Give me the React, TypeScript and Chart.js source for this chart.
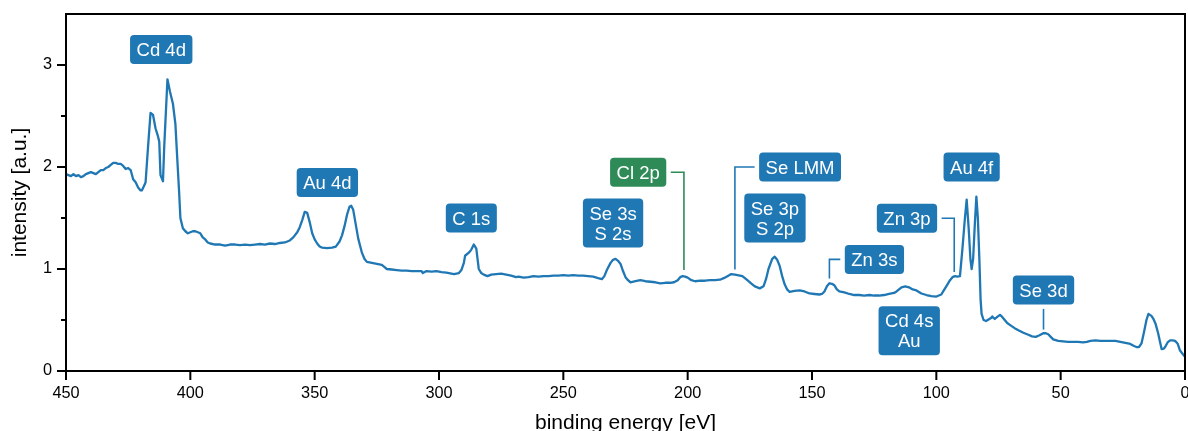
import React, { useEffect, useRef } from 'react';
import { Chart, registerables } from 'chart.js';

Chart.register(...registerables);

// binding energy [eV] (descending) and intensity [a.u.]
const energy = [
  450, 449, 448, 447, 446, 445, 444, 443, 442, 441, 440, 439, 438, 437, 436, 435, 434, 433, 432, 431,
  430, 429, 428, 427, 426, 425, 424, 423, 422, 421, 420, 419.5, 418.5, 418, 417, 416, 415, 414, 413, 412.5,
  412, 411, 410.5, 409.2, 408.2, 407, 406, 405.3, 404.5, 404, 403, 402, 401, 400, 399, 398, 397, 396, 395, 394,
  393, 392, 390, 388, 386, 384, 382, 380, 378, 376, 374, 372, 370, 368, 366, 364, 362, 360, 358.6, 357,
  356, 355, 354, 353, 352, 351, 350, 349, 348, 347, 345, 343, 341.5, 340, 339, 338, 337, 336, 335.3, 334.5,
  333.5, 332.5, 331, 330, 329, 327, 325, 323, 322, 321, 319, 317, 315, 313, 311, 309, 307, 306.5, 305, 303,
  301, 299, 297, 295, 294, 292, 291, 290, 289.5, 288, 287, 286, 285, 284.5, 284, 283, 282, 280.5, 279, 277,
  275, 273, 271, 269, 268, 266, 264, 262, 260, 258, 256, 254, 252, 250, 248, 246, 244, 242, 240, 238,
  236, 234.5, 233.5, 232.5, 231, 230, 229, 228, 227, 226, 225, 224, 223, 221, 219, 217, 215, 213, 211, 209,
  207, 205.5, 204, 203, 202, 201, 200, 198.5, 197, 195, 193, 191, 189, 187, 185.5, 184, 182.5, 181, 179, 178,
  176, 174.5, 173, 171, 169.5, 168.5, 167.5, 166, 165, 164, 163, 162, 161, 160, 159, 157, 155, 153, 151, 149,
  147, 146, 145, 144, 143, 142, 141, 140, 139, 137, 135, 133, 131, 129, 127, 125, 123, 121, 119, 117,
  116, 115, 114, 112.5, 111, 109.5, 108, 106, 104, 102, 100, 98, 97, 95.5, 94.5, 93.5, 92.5, 91.5, 90.5, 89.5,
  88.5, 87.8, 87, 86.3, 85.8, 85.2, 84.5, 83.9, 83.3, 82.7, 82.2, 81.8, 81, 80, 79, 78, 77.5, 77, 76.5, 75.5,
  74.4, 73.5, 72.5, 71.5, 70, 68.5, 67, 65, 63, 61.5, 60, 58.5, 57, 56, 55, 54, 53, 51, 49, 47,
  45, 43, 41, 39.5, 38, 36, 34, 32, 30, 28, 26, 24, 22, 20.5, 19.5, 18.5, 17.5, 16.5, 15.5, 14.7,
  13.5, 12.7, 11.8, 10.8, 10, 9.4, 8.5, 8, 7, 6, 5, 4, 3, 2, 1, 0,
];
const intensity = [
  1.93, 1.92, 1.91, 1.93, 1.91, 1.92, 1.90, 1.91, 1.93, 1.94, 1.95, 1.94, 1.93, 1.95, 1.97, 1.97, 1.99, 2.00, 2.02, 2.04,
  2.04, 2.03, 2.03, 2.01, 1.98, 1.99, 1.97, 1.88, 1.85, 1.80, 1.77, 1.77, 1.82, 1.85, 2.20, 2.53, 2.51, 2.38, 2.30, 2.25,
  1.92, 1.86, 2.20, 2.86, 2.74, 2.62, 2.42, 2.10, 1.75, 1.50, 1.40, 1.37, 1.35, 1.36, 1.37, 1.37, 1.36, 1.35, 1.31, 1.29,
  1.26, 1.25, 1.24, 1.24, 1.23, 1.24, 1.24, 1.235, 1.24, 1.235, 1.24, 1.245, 1.24, 1.25, 1.245, 1.255, 1.26, 1.28, 1.31, 1.36,
  1.41, 1.48, 1.56, 1.55, 1.46, 1.35, 1.29, 1.25, 1.22, 1.21, 1.205, 1.21, 1.22, 1.27, 1.33, 1.42, 1.53, 1.61, 1.62, 1.58,
  1.44, 1.30, 1.16, 1.10, 1.07, 1.06, 1.05, 1.04, 1.02, 1.00, 0.995, 0.99, 0.985, 0.985, 0.98, 0.98, 0.98, 0.96, 0.98, 0.975,
  0.98, 0.97, 0.965, 0.955, 0.95, 0.96, 0.99, 1.06, 1.13, 1.16, 1.19, 1.24, 1.20, 1.10, 1.00, 0.96, 0.945, 0.93, 0.945, 0.95,
  0.955, 0.945, 0.935, 0.92, 0.925, 0.915, 0.92, 0.93, 0.925, 0.93, 0.93, 0.935, 0.935, 0.94, 0.935, 0.94, 0.935, 0.935, 0.93, 0.925,
  0.91, 0.90, 0.93, 0.99, 1.06, 1.09, 1.10, 1.08, 1.05, 0.98, 0.92, 0.89, 0.87, 0.88, 0.89, 0.88, 0.875, 0.87, 0.86, 0.865,
  0.865, 0.87, 0.89, 0.92, 0.93, 0.925, 0.915, 0.89, 0.88, 0.885, 0.885, 0.89, 0.89, 0.895, 0.91, 0.93, 0.95, 0.945, 0.935, 0.93,
  0.89, 0.86, 0.83, 0.81, 0.83, 0.90, 1.00, 1.10, 1.12, 1.09, 1.03, 0.93, 0.85, 0.80, 0.775, 0.785, 0.79, 0.78, 0.76, 0.755,
  0.75, 0.755, 0.78, 0.83, 0.86, 0.855, 0.84, 0.80, 0.78, 0.77, 0.755, 0.745, 0.745, 0.74, 0.745, 0.74, 0.74, 0.745, 0.755, 0.765,
  0.78, 0.80, 0.82, 0.83, 0.82, 0.80, 0.79, 0.76, 0.745, 0.735, 0.73, 0.75, 0.79, 0.85, 0.89, 0.92, 0.93, 0.925, 0.93, 1.20,
  1.50, 1.68, 1.40, 1.10, 1.00, 1.10, 1.45, 1.71, 1.50, 1.10, 0.70, 0.56, 0.50, 0.49, 0.505, 0.52, 0.535, 0.52, 0.51, 0.53,
  0.55, 0.53, 0.50, 0.47, 0.445, 0.42, 0.40, 0.375, 0.355, 0.34, 0.335, 0.35, 0.37, 0.37, 0.36, 0.335, 0.31, 0.295, 0.29, 0.285,
  0.285, 0.285, 0.28, 0.285, 0.295, 0.30, 0.295, 0.295, 0.295, 0.295, 0.285, 0.275, 0.265, 0.245, 0.235, 0.235, 0.27, 0.38, 0.50, 0.56,
  0.54, 0.51, 0.46, 0.37, 0.28, 0.215, 0.22, 0.235, 0.28, 0.30, 0.30, 0.295, 0.27, 0.20, 0.17, 0.14,
];

// axis ticks
const xTickValues = [450, 400, 350, 300, 250, 200, 150, 100, 50, 0];
const yTickValues = [0, 1, 2, 3];
const yMinorTickValues = [0.5, 1.5, 2.5];

// peak annotations (label centre in data coordinates, optional leader line)
const peakLabels = ['Cd 4d', 'Au 4d', 'C 1s', 'Se 3s\nS 2s', 'Cl 2p', 'Se LMM', 'Se 3p\nS 2p', 'Zn 3s', 'Zn 3p', 'Au 4f', 'Cd 4s\nAu', 'Se 3d'];
const labelEnergy = [411.7, 344.9, 287.0, 230.0, 219.9, 154.8, 164.9, 124.9, 111.8, 85.8, 110.9, 56.9];
const labelIntensity = [3.153, 1.847, 1.5, 1.45, 1.948, 2.0, 1.5, 1.094, 1.497, 2.0, 0.395, 0.795];
const labelColors = ['#1f77b4', '#1f77b4', '#1f77b4', '#1f77b4', '#2e8b57', '#1f77b4', '#1f77b4', '#1f77b4', '#1f77b4', '#1f77b4', '#1f77b4', '#1f77b4'];
const leaderEnergy: (number | null)[] = [null, null, null, null, 201.5, 181.0, null, 143.0, 92.8, null, null, 56.9];
const leaderIntensity: (number | null)[] = [null, null, null, null, 0.99, 0.995, null, 0.907, 0.97, null, null, 0.406];

const FONT = "'Liberation Sans', Arial, Helvetica, sans-serif";

const framePlugin = {
  id: 'frame',
  afterDraw(chart: any) {
    const { ctx, chartArea, scales } = chart;
    const { left, right, top, bottom } = chartArea;
    const x = scales.x;
    const y = scales.y;
    ctx.save();
    ctx.strokeStyle = '#000';
    ctx.lineWidth = 2;
    ctx.lineCap = 'butt';
    ctx.beginPath();
    for (const v of xTickValues) {
      const px = x.getPixelForValue(v);
      ctx.moveTo(px, bottom);
      ctx.lineTo(px, bottom + 9);
    }
    for (const v of yTickValues) {
      const py = y.getPixelForValue(v);
      ctx.moveTo(left, py);
      ctx.lineTo(left - 9, py);
    }
    for (const v of yMinorTickValues) {
      const py = y.getPixelForValue(v);
      ctx.moveTo(left, py);
      ctx.lineTo(left - 5, py);
    }
    ctx.stroke();
    ctx.strokeRect(left, top, right - left, bottom - top);
    ctx.restore();
  },
};

const annotationPlugin = {
  id: 'peakAnnotations',
  afterDatasetsDraw(chart: any) {
    const { ctx, scales } = chart;
    const x = scales.x;
    const y = scales.y;
    const fontSize = 18.5;
    const lineH = 20;
    const padX = 6.5;
    const padY = 4.5;
    const gap = 4.5;
    ctx.save();
    ctx.font = `${fontSize}px ${FONT}`;
    peakLabels.forEach((label, i) => {
      const lines = label.split('\n');
      const cx = x.getPixelForValue(labelEnergy[i]);
      const cy = y.getPixelForValue(labelIntensity[i]);
      const tw = Math.max(...lines.map((l) => ctx.measureText(l).width));
      const w = tw + 2 * padX;
      const h = lines.length * lineH + 2 * padY;
      const color = labelColors[i];

      const le = leaderEnergy[i];
      const li = leaderIntensity[i];
      if (le !== null && li !== null) {
        const lx = x.getPixelForValue(le);
        const ly = y.getPixelForValue(li);
        ctx.strokeStyle = color;
        ctx.lineWidth = 1.6;
        ctx.lineJoin = 'miter';
        ctx.beginPath();
        if (Math.abs(lx - cx) > 1) {
          const dir = lx > cx ? 1 : -1;
          ctx.moveTo(cx + dir * (w / 2 + gap), cy);
          ctx.lineTo(lx, cy);
          ctx.lineTo(lx, ly);
        } else {
          const dir = ly > cy ? 1 : -1;
          ctx.moveTo(cx, cy + dir * (h / 2 + gap));
          ctx.lineTo(lx, ly);
        }
        ctx.stroke();
      }

      ctx.fillStyle = color;
      ctx.beginPath();
      (ctx as any).roundRect(cx - w / 2, cy - h / 2, w, h, 4);
      ctx.fill();

      ctx.fillStyle = '#ffffff';
      ctx.textAlign = 'center';
      ctx.textBaseline = 'alphabetic';
      lines.forEach((l, k) => {
        const lc = cy + (k - (lines.length - 1) / 2) * lineH;
        ctx.fillText(l, cx, lc + 6.6);
      });
    });
    ctx.restore();
  },
};

export default function App() {
  const ref = useRef<HTMLCanvasElement>(null);

  useEffect(() => {
    const canvas = ref.current;
    if (!canvas) return;
    Chart.defaults.font.family = FONT;
    Chart.defaults.color = '#000';
    const points = energy.map((e, i) => ({ x: e, y: intensity[i] }));
    const chart = new Chart(canvas, {
      type: 'line',
      data: {
        datasets: [
          {
            data: points,
            borderColor: '#1f77b4',
            borderWidth: 2.3,
            pointRadius: 0,
            tension: 0,
            fill: false,
            borderJoinStyle: 'round',
          },
        ],
      },
      options: {
        animation: false,
        responsive: false,
        devicePixelRatio: 1,
        events: [],
        layout: { padding: { top: 14, right: 3, left: 0, bottom: 0 } },
        plugins: { legend: { display: false }, tooltip: { enabled: false }, title: { display: false } },
        scales: {
          x: {
            type: 'linear',
            reverse: true,
            min: 0,
            max: 450,
            grid: { display: false, drawTicks: false },
            border: { display: false },
            ticks: {
              stepSize: 50,
              padding: 12.5,
              maxRotation: 0,
              autoSkip: false,
              color: '#000',
              font: { size: 16.3, family: FONT },
            },
            title: {
              display: true,
              text: 'binding energy [eV]',
              color: '#000',
              font: { size: 21, family: FONT, lineHeight: 1 },
              padding: { top: 0, bottom: -3 },
            },
            afterFit(scale: any) {
              scale.height = 60;
              scale.paddingLeft = 0;
              scale.paddingRight = 0;
            },
          },
          y: {
            type: 'linear',
            min: 0,
            max: 3.5,
            grid: { display: false, drawTicks: false },
            border: { display: false },
            ticks: {
              stepSize: 1,
              includeBounds: false,
              padding: 14,
              color: '#000',
              font: { size: 16.3, family: FONT },
              callback: (v: any) => (Number.isInteger(v) ? String(v) : ''),
            },
            title: {
              display: true,
              text: 'intensity [a.u.]',
              color: '#000',
              font: { size: 21, family: FONT, lineHeight: 1 },
              padding: { top: 10, bottom: 0 },
            },
            afterFit(scale: any) {
              scale.width = 66;
              scale.paddingTop = 0;
              scale.paddingBottom = 0;
            },
          },
        },
      },
      plugins: [annotationPlugin, framePlugin],
    });
    return () => chart.destroy();
  }, []);

  return (
    <div style={{ position: 'fixed', left: 0, top: 0, width: 1188, height: 431, background: '#ffffff' }}>
      <canvas ref={ref} width={1188} height={431} style={{ display: 'block', width: 1188, height: 431 }} />
    </div>
  );
}
